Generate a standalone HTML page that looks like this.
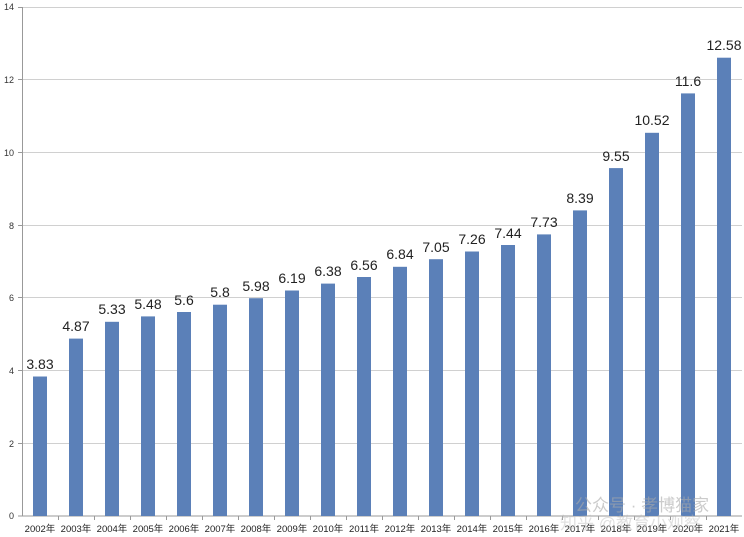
<!DOCTYPE html>
<html><head><meta charset="utf-8"><style>body{margin:0;background:#fff}svg{display:block}</style></head><body>
<svg width="744" height="537" viewBox="0 0 744 537" xmlns="http://www.w3.org/2000/svg" font-family="Liberation Sans, Noto Sans CJK SC, sans-serif">
<g stroke="#d0d0d0" stroke-width="1">
<line x1="22" x2="742" y1="7.5" y2="7.5"/><line x1="22" x2="742" y1="79.5" y2="79.5"/><line x1="22" x2="742" y1="152.5" y2="152.5"/><line x1="22" x2="742" y1="225.5" y2="225.5"/><line x1="22" x2="742" y1="297.5" y2="297.5"/><line x1="22" x2="742" y1="370.5" y2="370.5"/><line x1="22" x2="742" y1="443.5" y2="443.5"/>
</g>
<g stroke="#999" stroke-width="1">
<line x1="22.5" x2="22.5" y1="7" y2="516"/><line x1="18" x2="742" y1="516" y2="516"/>
<line x1="18" x2="22" y1="7.5" y2="7.5"/><line x1="18" x2="22" y1="79.5" y2="79.5"/><line x1="18" x2="22" y1="152.5" y2="152.5"/><line x1="18" x2="22" y1="225.5" y2="225.5"/><line x1="18" x2="22" y1="297.5" y2="297.5"/><line x1="18" x2="22" y1="370.5" y2="370.5"/><line x1="18" x2="22" y1="443.5" y2="443.5"/>
<line x1="58.5" x2="58.5" y1="516" y2="520"/><line x1="94.5" x2="94.5" y1="516" y2="520"/><line x1="130.5" x2="130.5" y1="516" y2="520"/><line x1="166.5" x2="166.5" y1="516" y2="520"/><line x1="202.5" x2="202.5" y1="516" y2="520"/><line x1="238.5" x2="238.5" y1="516" y2="520"/><line x1="274.5" x2="274.5" y1="516" y2="520"/><line x1="310.5" x2="310.5" y1="516" y2="520"/><line x1="346.5" x2="346.5" y1="516" y2="520"/><line x1="382.5" x2="382.5" y1="516" y2="520"/><line x1="418.5" x2="418.5" y1="516" y2="520"/><line x1="454.5" x2="454.5" y1="516" y2="520"/><line x1="490.5" x2="490.5" y1="516" y2="520"/><line x1="526.5" x2="526.5" y1="516" y2="520"/><line x1="562.5" x2="562.5" y1="516" y2="520"/><line x1="598.5" x2="598.5" y1="516" y2="520"/><line x1="634.5" x2="634.5" y1="516" y2="520"/><line x1="670.5" x2="670.5" y1="516" y2="520"/><line x1="706.5" x2="706.5" y1="516" y2="520"/>
</g>
<g font-size="9" fill="#333" text-anchor="end">
<text x="14" y="10">14</text><text x="14" y="83">12</text><text x="14" y="156">10</text><text x="14" y="229">8</text><text x="14" y="301">6</text><text x="14" y="374">4</text><text x="14" y="447">2</text><text x="14" y="519">0</text>
</g>
<g fill="#5b80b8">
<rect x="33" y="376.5" width="14" height="139.5"/>
<rect x="69" y="338.6" width="14" height="177.4"/>
<rect x="105" y="321.8" width="14" height="194.2"/>
<rect x="141" y="316.4" width="14" height="199.6"/>
<rect x="177" y="312" width="14" height="204"/>
<rect x="213" y="304.7" width="14" height="211.3"/>
<rect x="249" y="298.2" width="14" height="217.8"/>
<rect x="285" y="290.5" width="14" height="225.5"/>
<rect x="321" y="283.6" width="14" height="232.4"/>
<rect x="357" y="277" width="14" height="239"/>
<rect x="393" y="266.8" width="14" height="249.2"/>
<rect x="429" y="259.2" width="14" height="256.8"/>
<rect x="465" y="251.5" width="14" height="264.5"/>
<rect x="501" y="245" width="14" height="271"/>
<rect x="537" y="234.4" width="14" height="281.6"/>
<rect x="573" y="210.4" width="14" height="305.6"/>
<rect x="609" y="168.1" width="14" height="347.9"/>
<rect x="645" y="132.8" width="14" height="383.2"/>
<rect x="681" y="93.4" width="14" height="422.6"/>
<rect x="717" y="57.7" width="14" height="458.3"/>
</g>
<g font-size="14" fill="#222" text-anchor="middle">
<text x="40" y="369">3.83</text><text x="76" y="331">4.87</text><text x="112" y="314">5.33</text><text x="148" y="309">5.48</text><text x="184" y="305">5.6</text><text x="220" y="297">5.8</text><text x="256" y="291">5.98</text><text x="292" y="283">6.19</text><text x="328" y="276">6.38</text><text x="364" y="270">6.56</text><text x="400" y="259">6.84</text><text x="436" y="252">7.05</text><text x="472" y="244">7.26</text><text x="508" y="238">7.44</text><text x="544" y="227">7.73</text><text x="580" y="203">8.39</text><text x="616" y="161">9.55</text><text x="652" y="125">10.52</text><text x="688" y="86">11.6</text><text x="724" y="50">12.58</text>
</g>
<g font-size="9.5" fill="#222" text-anchor="middle">
<text x="40" y="532">2002年</text><text x="76" y="532">2003年</text><text x="112" y="532">2004年</text><text x="148" y="532">2005年</text><text x="184" y="532">2006年</text><text x="220" y="532">2007年</text><text x="256" y="532">2008年</text><text x="292" y="532">2009年</text><text x="328" y="532">2010年</text><text x="364" y="532">2011年</text><text x="400" y="532">2012年</text><text x="436" y="532">2013年</text><text x="472" y="532">2014年</text><text x="508" y="532">2015年</text><text x="544" y="532">2016年</text><text x="580" y="532">2017年</text><text x="616" y="532">2018年</text><text x="652" y="532">2019年</text><text x="688" y="532">2020年</text><text x="724" y="532">2021年</text>
</g>
<text x="575" y="511" font-size="17" fill="#aaa" opacity="0.6">公众号 · 孝博猫家</text>
<text x="560" y="529" font-size="17" fill="#bbb" opacity="0.45">知乎 @教育小观察</text>
</svg>
</body></html>
